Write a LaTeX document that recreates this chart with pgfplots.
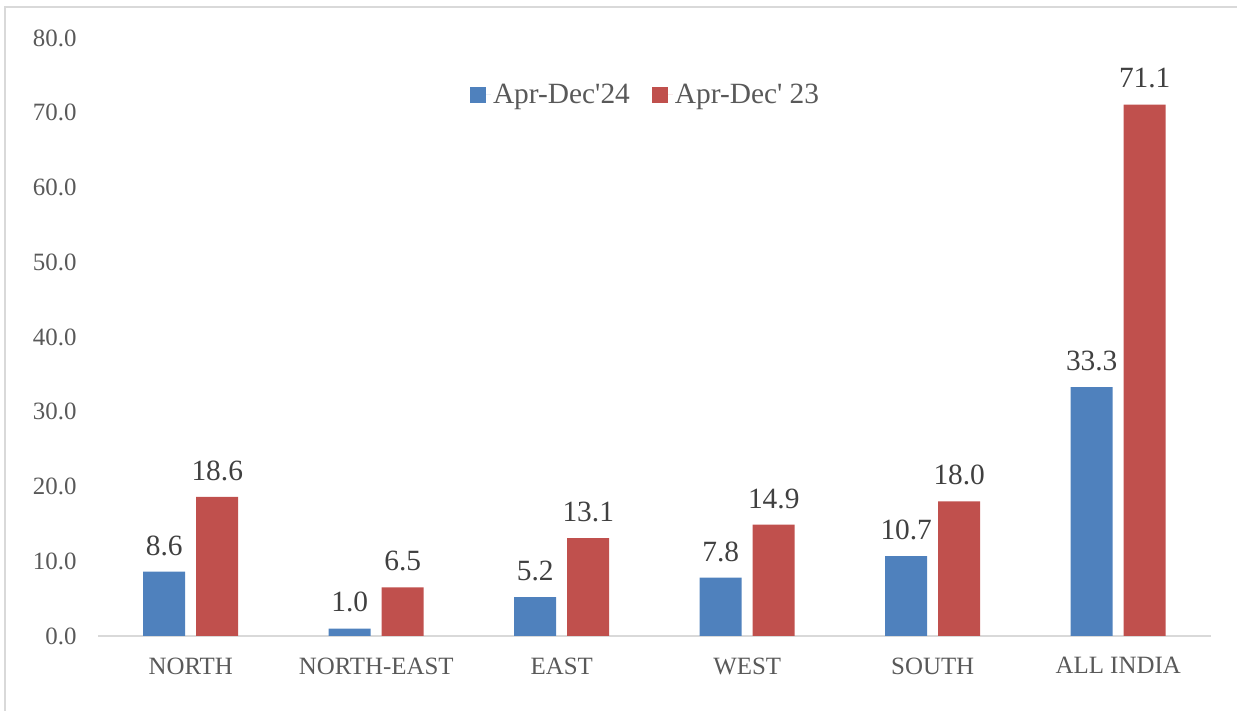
\documentclass[border=0pt]{standalone}
\usepackage{pgfplots}
\pgfplotsset{compat=1.18}
\usepackage{fontspec}
\setmainfont{Liberation Serif}
\definecolor{barblue}{HTML}{4F81BD}
\definecolor{barred}{HTML}{C0504D}
\definecolor{txt}{HTML}{595959}
\definecolor{lbl}{HTML}{404040}
\definecolor{axgray}{HTML}{D9D9D9}
\begin{document}
\begin{tikzpicture}
\path[use as bounding box] (0,0) rectangle (1237bp,711bp);
\draw[axgray, line width=1.5bp] (5bp,0) -- (5bp,704bp) -- (1237bp,704bp);
\begin{axis}[
  at={(98bp,75bp)}, anchor=south west,
  scale only axis, width=1113bp, height=598bp,
  xmin=-0.5, xmax=5.5, ymin=0, ymax=80,
  ybar=11bp, bar width=42bp,
  axis x line=bottom, axis y line=left,
  x axis line style={axgray, line width=1.5bp, -},
  y axis line style={draw=none},
  tick style={draw=none}, major tick length=0pt,
  xtick={0,1,2,3,4,5},
  xticklabels={NORTH,NORTH-EAST,EAST,WEST,SOUTH,ALL INDIA},
  ytick={0,10,...,80},
  /pgf/number format/assume math mode=true,
  yticklabel style={/pgf/number format/fixed, /pgf/number format/fixed zerofill, /pgf/number format/precision=1, xshift=-18bp},
  ticklabel style={font=\fontsize{25}{30}\selectfont, text=txt},
  xticklabel style={yshift=-18bp},
  nodes near coords,
  nodes near coords style={/pgf/number format/fixed, /pgf/number format/fixed zerofill, /pgf/number format/precision=1, /pgf/number format/assume math mode=true},
  every node near coord/.append style={font=\fontsize{29.5}{34}\selectfont, text=lbl, anchor=south, inner sep=0pt, yshift=16bp},
  legend columns=2,
  legend style={draw=none, fill=none, at={(0.492,0.905)}, anchor=center, font=\fontsize{29.5}{34}\selectfont, text=txt,
    /tikz/every even column/.append style={column sep=20bp}},
  legend image code/.code={\fill[#1] (0bp,-8bp) rectangle (16bp,8bp); \path (0bp,0bp) -- (21bp,0bp);},
]
\addplot[fill=barblue, draw=none] coordinates {(0,8.6) (1,1.0) (2,5.2) (3,7.8) (4,10.7) (5,33.3)};
\addplot[fill=barred, draw=none] coordinates {(0,18.6) (1,6.5) (2,13.1) (3,14.9) (4,18.0) (5,71.1)};
\legend{Apr-Dec\textquotesingle 24, Apr-Dec\textquotesingle{} 23}
\end{axis}
\end{tikzpicture}
\end{document}
